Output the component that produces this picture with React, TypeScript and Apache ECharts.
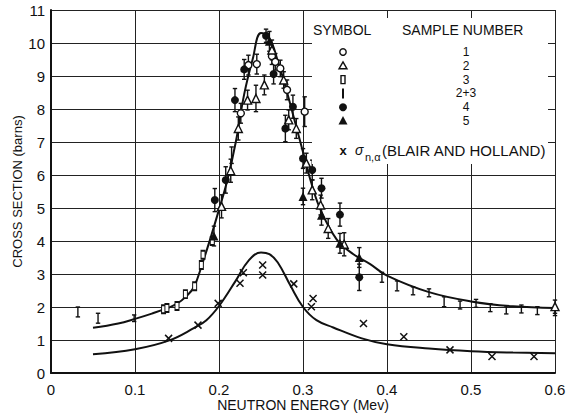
import React, { useEffect, useRef } from "react";
import * as echarts from "echarts";

// ---- data (x = neutron energy in Mev, y = cross section in barns, e = error) ----
const xTicks = [0, 0.1, 0.2, 0.3, 0.4, 0.5, 0.6];
const yTicks = [0, 1, 2, 3, 4, 5, 6, 7, 8, 9, 10, 11];

const sample1: number[][] = [
  [0.226, 7.87, 0.3], [0.235, 9.33, 0.3], [0.245, 9.36, 0.3], [0.263, 9.6, 0.25],
  [0.267, 9.43, 0.25], [0.273, 9.23, 0.25], [0.281, 8.58, 0.3], [0.302, 7.92, 0.45],
];
const sample2: number[][] = [
  [0.203, 5.05, 0.35], [0.214, 6.13, 0.35], [0.223, 7.41, 0.35], [0.234, 8.27, 0.3],
  [0.244, 8.32, 0.4], [0.254, 8.73, 0.3], [0.263, 9.79, 0.3], [0.277, 8.88, 0.25],
  [0.283, 7.67, 0.3], [0.292, 7.41, 0.3], [0.304, 6.36, 0.3], [0.311, 5.55, 0.3],
  [0.321, 5.09, 0.3], [0.33, 4.38, 0.3], [0.349, 3.9, 0.35], [0.6, 2.01, 0.2],
];
const sample3: number[][] = [
  [0.134, 1.93, 0], [0.138, 1.97, 0], [0.15, 2.03, 0], [0.16, 2.39, 0],
  [0.171, 2.63, 0], [0.179, 3.27, 0], [0.181, 3.58, 0], [0.192, 4.0, 0],
];
const sample23: number[][] = [
  [0.032, 1.85, 0.15], [0.056, 1.66, 0.15], [0.099, 1.66, 0.1], [0.215, 6.6, 0.25],
  [0.394, 2.9, 0.15], [0.412, 2.64, 0.15], [0.431, 2.49, 0.12], [0.45, 2.43, 0.12],
  [0.468, 2.16, 0.15], [0.487, 2.06, 0.12], [0.506, 2.11, 0.12], [0.523, 1.98, 0.12],
  [0.542, 1.91, 0.12], [0.56, 1.94, 0.12], [0.579, 1.89, 0.12], [0.6, 1.86, 0.12],
];
const sample4: number[][] = [
  [0.195, 5.24, 0.35], [0.208, 5.85, 0.4], [0.219, 8.27, 0.35], [0.23, 9.2, 0.3],
  [0.256, 10.22, 0.2], [0.265, 9.06, 0.3], [0.279, 7.41, 0.4], [0.288, 8.07, 0.35],
  [0.3, 6.5, 0.3], [0.311, 6.15, 0.3], [0.322, 5.6, 0.3], [0.344, 4.8, 0.35],
  [0.367, 2.9, 0.4],
];
const sample5: number[][] = [
  [0.194, 4.15, 0.3], [0.26, 10.05, 0.3], [0.3, 5.35, 0.25], [0.322, 4.78, 0.3],
  [0.344, 3.93, 0.3], [0.367, 3.5, 0.3],
];
const blairHolland: number[][] = [
  [0.14, 1.05], [0.175, 1.45], [0.199, 2.11], [0.225, 2.72], [0.229, 3.04],
  [0.252, 3.27], [0.252, 2.97], [0.289, 2.7], [0.312, 2.26], [0.31, 2.01],
  [0.372, 1.5], [0.42, 1.1], [0.475, 0.7], [0.525, 0.5], [0.575, 0.5],
];
// fitted curves
const totalCurve: number[][] = [
  [0.05, 1.37], [0.08, 1.5], [0.1, 1.64], [0.12, 1.8], [0.14, 1.98], [0.15, 2.1],
  [0.16, 2.3], [0.17, 2.6], [0.18, 3.3], [0.19, 4.1], [0.2, 4.95], [0.21, 5.85],
  [0.22, 7.0], [0.23, 8.45], [0.24, 9.5], [0.25, 10.3], [0.26, 10.15], [0.27, 9.45],
  [0.28, 8.6], [0.29, 7.65], [0.3, 6.7], [0.31, 5.75], [0.32, 5.0], [0.34, 4.05],
  [0.36, 3.6], [0.38, 3.3], [0.4, 2.95], [0.45, 2.45], [0.5, 2.17], [0.55, 2.02],
  [0.6, 1.97],
];
const alphaCurve: number[][] = [
  [0.05, 0.57], [0.1, 0.72], [0.14, 0.98], [0.17, 1.36], [0.185, 1.6], [0.2, 2.03],
  [0.22, 2.8], [0.235, 3.4], [0.25, 3.65], [0.26, 3.6], [0.27, 3.35], [0.285, 2.65],
  [0.3, 2.0], [0.316, 1.6], [0.336, 1.38], [0.37, 1.05], [0.4, 0.87], [0.45, 0.74],
  [0.5, 0.66], [0.55, 0.62], [0.6, 0.6],
];

const legendRows = ["1", "2", "3", "2+3", "4", "5"];

const FONT = "Liberation Sans, Arial, sans-serif";
const INK = "#111";

const X_PATH = "path://M0,0L10,10M10,0L0,10";

function errBars(arr: number[][]) {
  return arr.filter((d) => d[2] > 0).map((d) => [d[0], d[1] - d[2], d[1] + d[2]]);
}

export default function App() {
  const ref = useRef<HTMLDivElement>(null);
  useEffect(() => {
    document.body.style.margin = "0";
    if (!ref.current) return;
    const chart = echarts.init(ref.current, null, { renderer: "svg" });

    const allBars = [
      ...errBars(sample1), ...errBars(sample2), ...errBars(sample23),
      ...errBars(sample4), ...errBars(sample5),
    ];

    const markerStyle = (fill: string) => ({
      color: fill, borderColor: INK, borderWidth: 1.4, opacity: 1,
    });

    const legendX = 343;
    const rowStep = 13.8;
    const rowY = legendRows.map((_, i) => 52 + i * rowStep);

    chart.setOption({
      animation: false,
      backgroundColor: "#fff",
      grid: { left: 51, right: 11, top: 10, bottom: 46, containLabel: false, outerBoundsMode: "none" },
      xAxis: {
        type: "value", min: 0, max: 0.6, interval: 0.1,
        name: "NEUTRON ENERGY (Mev)", nameLocation: "middle", nameGap: 25,
        nameMoveOverlap: false,
        nameTextStyle: { color: INK, fontFamily: FONT, fontSize: 14 },
        axisLine: { show: true, lineStyle: { color: INK, width: 2 } },
        axisTick: { show: false },
        axisLabel: {
          color: INK, fontFamily: FONT, fontSize: 15, margin: 9,
          formatter: (v: number) => (xTicks.some((t) => Math.abs(t - v) < 1e-9) ? String(Math.round(v * 10) / 10) : ""),
        },
        splitLine: { show: true, lineStyle: { color: "#222", width: 1 } },
      },
      yAxis: {
        type: "value", min: 0, max: 11, interval: 1,
        name: "CROSS SECTION (barns)", nameLocation: "middle", nameGap: 27,
        nameRotate: 90, nameMoveOverlap: false,
        nameTextStyle: { color: INK, fontFamily: FONT, fontSize: 13 },
        axisLine: { show: true, lineStyle: { color: INK, width: 2 } },
        axisTick: { show: false },
        axisLabel: {
          color: INK, fontFamily: FONT, fontSize: 15, margin: 6,
          formatter: (v: number) => (yTicks.includes(v) ? String(v) : ""),
        },
        splitLine: { show: true, lineStyle: { color: "#222", width: 1 } },
      },
      graphic: [
        { type: "rect", z: 5, shape: { x: 312, y: 18, width: 236, height: 146 }, style: { fill: "#fff" } },
        { type: "text", z: 6, left: 313, top: 23, style: { text: "SYMBOL", font: `14px ${FONT}`, fill: INK } },
        { type: "text", z: 6, left: 402, top: 23, style: { text: "SAMPLE NUMBER", font: `14px ${FONT}`, fill: INK, } },
        ...legendRows.map((t, i) => ({
          type: "text", z: 6, x: 466, y: rowY[i],
          style: { text: t, font: `12px ${FONT}`, fill: INK, align: "center", verticalAlign: "middle" },
        })),
        { type: "circle", z: 6, shape: { cx: legendX, cy: rowY[0], r: 3.2 }, style: { fill: "#fff", stroke: INK, lineWidth: 1.4 } },
        { type: "polygon", z: 6, shape: { points: [[legendX, rowY[1] - 4], [legendX + 4, rowY[1] + 3], [legendX - 4, rowY[1] + 3]] }, style: { fill: "#fff", stroke: INK, lineWidth: 1.4 } },
        { type: "rect", z: 6, shape: { x: legendX - 2, y: rowY[2] - 4, width: 4, height: 8 }, style: { fill: "#fff", stroke: INK, lineWidth: 1.4 } },
        { type: "line", z: 6, shape: { x1: legendX, y1: rowY[3] - 5, x2: legendX, y2: rowY[3] + 5 }, style: { stroke: INK, lineWidth: 2 } },
        { type: "circle", z: 6, shape: { cx: legendX, cy: rowY[4], r: 4 }, style: { fill: INK } },
        { type: "polygon", z: 6, shape: { points: [[legendX, rowY[5] - 5], [legendX + 4.5, rowY[5] + 3.5], [legendX - 4.5, rowY[5] + 3.5]] }, style: { fill: INK } },
        { type: "text", z: 6, x: 343, y: 150, style: { text: "x", font: `bold 13px ${FONT}`, fill: INK, align: "center", verticalAlign: "middle" } },
        { type: "text", z: 6, x: 355, y: 150, style: { text: "σ", font: `italic 14px ${FONT}`, fill: INK, verticalAlign: "middle" } },
        { type: "text", z: 6, x: 365, y: 157, style: { text: "n,α", font: `11px ${FONT}`, fill: INK, verticalAlign: "middle" } },
        { type: "text", z: 6, x: 382, y: 150, style: { text: "(BLAIR AND HOLLAND)", font: `15px ${FONT}`, fill: INK, verticalAlign: "middle" } },
      ],
      series: [
        {
          type: "line", data: totalCurve, smooth: 0.4, showSymbol: false, z: 3,
          lineStyle: { color: INK, width: 2 },
        },
        {
          type: "line", data: alphaCurve, smooth: 0.4, showSymbol: false, z: 3,
          lineStyle: { color: INK, width: 2 },
        },
        {
          type: "custom", z: 4, data: allBars, encode: { x: 0, y: [1, 2] },
          renderItem: (_p: any, api: any) => {
            const x = api.value(0);
            const a = api.coord([x, api.value(1)]);
            const b = api.coord([x, api.value(2)]);
            const w = 2.2;
            const st = { stroke: INK, lineWidth: 1.4 };
            return {
              type: "group",
              children: [
                { type: "line", shape: { x1: a[0], y1: a[1], x2: b[0], y2: b[1] }, style: st },
                { type: "line", shape: { x1: a[0] - w, y1: a[1], x2: a[0] + w, y2: a[1] }, style: st },
                { type: "line", shape: { x1: b[0] - w, y1: b[1], x2: b[0] + w, y2: b[1] }, style: st },
              ],
            };
          },
        },
        { type: "scatter", z: 5, data: sample1.map((d) => [d[0], d[1]]), symbol: "circle", symbolSize: 7, itemStyle: markerStyle("#fff") },
        { type: "scatter", z: 5, data: sample2.map((d) => [d[0], d[1]]), symbol: "triangle", symbolSize: 8, itemStyle: markerStyle("#fff") },
        { type: "scatter", z: 5, data: sample3.map((d) => [d[0], d[1]]), symbol: "rect", symbolSize: [4, 8], itemStyle: markerStyle("#fff") },
        { type: "scatter", z: 5, data: sample4.map((d) => [d[0], d[1]]), symbol: "circle", symbolSize: 8, itemStyle: { color: INK, opacity: 1 } },
        { type: "scatter", z: 5, data: sample5.map((d) => [d[0], d[1]]), symbol: "triangle", symbolSize: 9, itemStyle: { color: INK, opacity: 1 } },
        {
          type: "scatter", z: 5, data: blairHolland, symbol: X_PATH, symbolSize: 7,
          itemStyle: { color: "none", borderColor: INK, borderWidth: 1.5, opacity: 1 },
        },
      ],
    });
    return () => chart.dispose();
  }, []);
  return <div ref={ref} style={{ width: 566, height: 419 }} />;
}
